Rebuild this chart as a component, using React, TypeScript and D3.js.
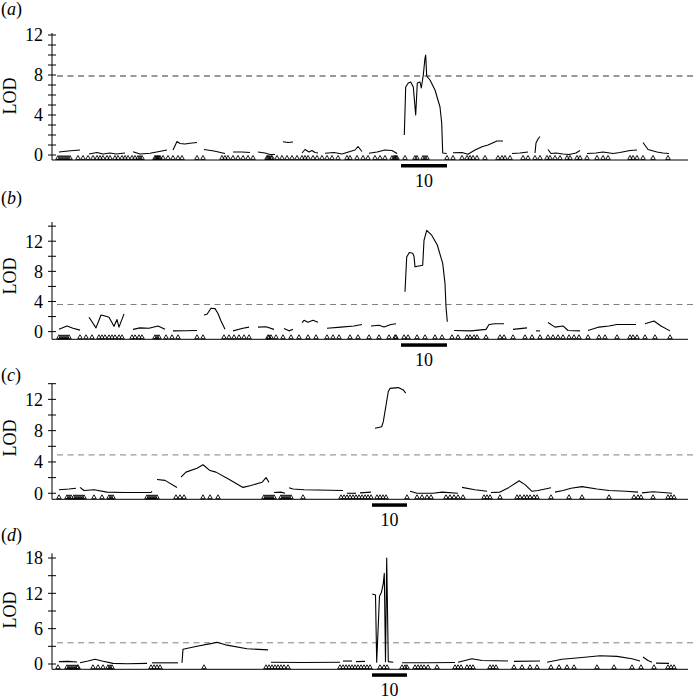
import React from 'react';
import * as d3 from 'd3';

type Pt = [number, number];

// map position (arbitrary cM-like units) -> LOD, one array per curve segment
const lodA: Pt[][] = [
  [[7, 0.3], [16, 0.4], [28, 0.5]],
  [[37, 0.1], [45, 0.25], [51, 0.1], [58, 0.2], [64, 0.1], [73, 0.2]],
  [[81, 0.33], [88, 0.1], [98, 0.17], [106, 0.33], [115, 0.5]],
  [[121, 0.5], [125, 1.35], [128, 1.15], [133, 1.1], [138, 1.17], [145, 1.25]],
  [[152, 0.55], [162, 0.4], [173, 0.15]],
  [[181, 0.3], [190, 0.3], [198, 0.25]],
  [[206, 0.3], [213, 0.2], [218, 0.05], [223, 0.05]],
  [[231, 1.33], [236, 1.25], [241, 1.3]],
  [[250, 0.2], [253, 0.55], [257, 0.3], [260, 0.45], [263, 0.25], [266, 0.2]],
  [[273, 0.17], [282, 0.25], [290, 0.1], [298, 0.35], [303, 0.5], [306, 0.85], [310, 0.35]],
  [[317, 0.17], [325, 0.3], [333, 0.5], [340, 0.45], [345, 0.15]],
  [[352.3, 2.0], [353.7, 6.8], [356.3, 7.2], [358.7, 7.3], [361.3, 6.8], [363.7, 4.0], [365.3, 7.2], [368, 7.3],
    [369.3, 6.7], [371.3, 8.0], [373, 9.7], [373.7, 10.0], [374.7, 7.9], [378, 7.5], [383, 6.5], [388, 4.8],
    [389.7, 3.2], [390.7, 0.2], [394.7, 0.15]],
  [[401, 0.23], [410, 0.25], [416, 0.07], [423, 0.5], [430, 0.83], [436, 1.0], [445, 1.4], [451, 1.4]],
  [[460, 0.15], [468, 0.2], [476, 0.3]],
  [[483, 0.2], [484, 1.2], [486, 1.6], [488, 1.85]],
  [[496, 0.55], [499, 0.15], [504, 0.2], [511, 0.1], [517, 0.05], [524, 0.2], [528, 0.45]],
  [[535, 0.15], [544, 0.2], [551, 0.3], [561, 0.15], [568, 0.25], [578, 0.45], [585, 0.5]],
  [[591, 1.25], [596, 0.55], [605, 0.3], [611, 0.2], [617, 0.15]],
];
const markersA = [6, 8, 10, 12, 14, 16, 18, 26, 31, 36, 41, 45, 48, 51, 55, 58, 63, 66, 70, 73, 76, 80, 83, 86, 88, 90,
  103, 104, 105, 106, 107, 108, 111, 116, 121, 126, 130, 145, 151, 170, 173, 176, 181, 186, 191, 196, 201, 215, 216,
  217, 219, 220, 225, 230, 235, 240, 245, 250, 253, 256, 261, 265, 270, 275, 280, 286, 295, 298, 305, 311, 316, 323,
  328, 333, 340, 342, 343, 344, 345, 353, 363, 365, 371, 373, 375, 395, 401, 410, 415, 418, 421, 425, 433, 446, 450,
  453, 458, 471, 476, 483, 488, 495, 498, 503, 508, 515, 518, 525, 528, 535, 545, 551, 556, 578, 581, 585, 591, 601, 616];

const lodB: Pt[][] = [
  [[7, 0.3], [15, 0.75], [21, 0.45], [28, 0.2]],
  [[37, 1.9], [44, 0.5], [49, 2.2], [54, 2.05], [57, 1.9], [62, 0.7], [65, 1.6], [67, 0.6], [72, 2.35]],
  [[81, 0.3], [88, 0.5], [97, 0.45], [106, 0.75], [113, 0.3]],
  [[121, 0.1], [133, 0.12], [145, 0.15]],
  [[152, 2.2], [155, 2.3], [159, 3.1], [163, 3.05], [166, 2.4], [169, 1.4], [173, 0.3]],
  [[181, 0.1], [191, 0.45], [197, 0.6]],
  [[206, 0.6], [214, 0.65], [222, 0.3]],
  [[232, 0.4], [237, 0.1], [241, 0.3]],
  [[250, 1.2], [252, 1.5], [256, 1.25], [261, 1.5], [266, 1.25]],
  [[275, 0.45], [289, 0.6], [302, 0.75], [310, 0.95]],
  [[319, 0.75], [327, 0.85], [332, 0.6], [339, 0.95], [344, 1.05]],
  [[353, 5.3], [354.7, 9.9], [357.3, 10.5], [360.7, 10.4], [362, 10.0], [363, 8.6], [370.7, 8.8], [372, 12.1],
    [374.7, 13.45], [379.7, 12.8], [385.3, 11.5], [390.7, 9.05], [393, 6.4], [394, 3.3], [395.3, 1.3]],
  [[402, 0.15], [419, 0.1], [434, 0.3], [437, 0.95], [443, 1.05], [452, 1.05]],
  [[461, 0.3], [468, 0.4], [475, 0.5]],
  [[484, 0.1], [488, 0.1]],
  [[496, 1.2], [503, 0.6], [511, 0.75], [516, 0.15], [528, 0.1]],
  [[536, 0.15], [547, 0.6], [557, 0.75], [565, 0.95], [584, 0.95]],
  [[593, 1.05], [602, 1.4], [609, 0.75], [618, 0.1]],
];
const markersB = [7, 9, 11, 13, 15, 17, 28, 34, 40, 47, 50, 53, 57, 60, 63, 67, 70, 80, 83, 87, 90, 103, 105, 107,
  114, 120, 126, 145, 151, 172, 177, 182, 187, 192, 197, 216, 217, 219, 224, 231, 239, 247, 256, 264, 275, 281, 287,
  298, 306, 317, 327, 337, 343, 344, 352, 356, 365, 373, 383, 390, 400, 406, 415, 418, 422, 425, 434, 448, 452, 461,
  473, 480, 488, 496, 501, 506, 511, 517, 522, 527, 536, 547, 553, 565, 578, 581, 585, 593, 603, 618];

const lodC: Pt[][] = [
  [[7, 0.45], [17, 0.55], [24, 0.65]],
  [[28, 0.75], [32, 0.35], [42, 0.45], [55, 0.15], [72, 0.1], [99, 0.1], [100, 0.25]],
  [[105, 1.75], [113, 1.65], [125, 0.75]],
  [[129, 2.05], [134, 2.7], [145, 3.2], [151, 3.65], [158, 2.9], [164, 2.7], [176, 1.85], [191, 0.75], [199, 1.0],
    [210, 1.4], [214, 2.0], [217, 1.4]],
  [[222, 0.1], [229, 0.15], [233, 0.0]],
  [[237, 0.7], [241, 0.55], [252, 0.45], [291, 0.35]],
  [[295, 0.0], [304, 0.0]],
  [[308, 0.05], [319, 0.15]],
  [[323, 8.3], [329.7, 8.5], [331.3, 9.15], [336.3, 13.0], [338, 13.4], [346.3, 13.5], [351.3, 13.2], [353.7, 12.8]],
  [[358, 0.25], [365, 0.0], [381, 0.0], [390, 0.15], [406, 0.0]],
  [[410, 0.75], [423, 0.45], [435, 0.25]],
  [[439, 0.1], [448, 0.15], [457, 0.75], [465, 1.4], [467, 1.6], [473, 1.1], [480, 0.25], [486, 0.35], [499, 0.7]],
  [[503, 0.15], [511, 0.35], [519, 0.65], [530, 0.85], [545, 0.55], [557, 0.35], [574, 0.25], [586, 0.15]],
  [[590, 0.05], [601, 0.2], [611, 0.1], [620, 0.0]],
];
const markersC = [7, 15, 17, 19, 22, 24, 26, 28, 30, 32, 42, 50, 57, 59, 61, 95, 97, 99, 101, 103, 105, 124, 128,
  132, 151, 158, 166, 212, 214, 216, 218, 220, 222, 229, 231, 233, 235, 237, 239, 251, 289, 292, 295, 298, 301, 304,
  307, 310, 313, 316, 319, 325, 328, 331, 334, 355, 365, 370, 375, 379, 394, 398, 402, 406, 411, 432, 435, 438, 448,
  465, 468, 472, 475, 478, 482, 485, 499, 517, 530, 557, 582, 586, 589, 601, 616, 619, 622];

const lodD: Pt[][] = [
  [[7, 0.4], [16, 0.45], [25, 0.35]],
  [[28, 0.2], [36, 0.5], [43, 0.8], [50, 0.5], [61, 0.1], [75, 0.05], [95, 0.1]],
  [[100, 0.2], [126, 0.2]],
  [[130, 0.2], [131, 2.5], [145, 3.0], [160, 3.5], [165, 3.7], [175, 3.2], [195, 2.6], [216, 2.4]],
  [[219, 0.3], [250, 0.25], [288, 0.3]],
  [[291, 0.5], [300, 0.5]],
  [[304, 0.4], [313, 0.45]],
  [[320.3, 11.9], [323.5, 11.7], [324.7, 0.3], [327.5, 11.5], [329.5, 12.2], [331.3, 13.7], [332.3, 15.4],
    [333.5, 0.4], [334.7, 18.0], [336.3, 0.4], [341.3, 0.3]],
  [[350, 0.2], [375, 0.2], [403, 0.25]],
  [[406, 0.3], [420, 0.9], [430, 0.6], [456, 0.5]],
  [[462, 0.45], [488, 0.5]],
  [[495, 0.3], [510, 0.8], [530, 1.1], [548, 1.4], [565, 1.3], [580, 0.9], [588, 0.5]],
  [[591, 1.2], [596, 0.6], [600, 0.3]],
  [[604, 0.15], [617, 0.1]],
];
const markersD = [6, 15, 17, 19, 21, 23, 25, 26, 41, 46, 51, 56, 58, 60, 99, 102, 105, 108, 152, 214, 217, 220, 223,
  226, 229, 232, 236, 288, 291, 294, 297, 300, 303, 306, 309, 312, 315, 318, 328, 332, 335, 350, 353, 355, 363, 366,
  369, 372, 376, 385, 403, 406, 409, 415, 418, 421, 438, 441, 444, 462, 470, 478, 485, 499, 507, 515, 522, 545, 562,
  580, 589, 602, 616, 619, 622];

const thresholds = [7.9, 3.6, 4.9, 3.6];
const panelLetters = ['a', 'b', 'c', 'd'];
const majorTicks = [[0, 4, 8, 12], [0, 4, 8, 12], [0, 4, 8, 12], [0, 6, 12, 18]];
const minorTicks = [[1, 2, 3, 5, 6, 7, 9, 10, 11], [2, 6, 10, 14], [2, 6, 10, 14], [3, 9, 15]];
const chr10Spans: [number, number][] = [[349, 395], [349, 395], [320, 355], [320, 355]];
const chrLabel = '10';

const curves = [lodA, lodB, lodC, lodD];
const markers = [markersA, markersB, markersC, markersD];

// pixel layout of each panel: baseline, axis top, LOD extent
const layout = [
  { base: 160, top: 33, lo: -0.5, hi: 12.2, letterY: 15, lodY: 96 },
  { base: 339.3, top: 222, lo: -1.02, hi: 14.55, letterY: 204, lodY: 276 },
  { base: 499.3, top: 383.3, lo: -0.77, hi: 14.05, letterY: 381, lodY: 438 },
  { base: 669.3, top: 553.3, lo: -0.9, hi: 18.8, letterY: 541, lodY: 610 },
];

const FONT = "'Liberation Serif', 'Times New Roman', Times, serif";
const AX_L = 52;
const AX_R = 688;

const x = d3.scaleLinear().domain([0, 636]).range([AX_L, AX_R]);
const tri = d3.symbol(d3.symbolTriangle, 9)() as string;

function Panel({ i }: { i: number }) {
  const L = layout[i];
  const y = d3.scaleLinear().domain([L.lo, L.hi]).range([L.base, L.top]);
  const line = d3.line<Pt>().x((d) => x(d[0])).y((d) => y(d[1]));
  const span = chr10Spans[i];
  return (
    <g>
      <text x={1} y={L.letterY} fontFamily={FONT} fontSize={18}>
        (<tspan fontStyle="italic">{panelLetters[i]}</tspan>)
      </text>
      <text
        transform={`translate(15.5,${L.lodY}) rotate(-90)`}
        textAnchor="middle"
        fontFamily={FONT}
        fontSize={18}
      >
        LOD
      </text>
      {/* axes */}
      <line x1={AX_L} x2={AX_L} y1={L.base} y2={L.top} stroke="#000" strokeWidth={1} />
      <line x1={AX_L} x2={AX_R} y1={L.base} y2={L.base} stroke="#000" strokeWidth={1} />
      {majorTicks[i].concat(minorTicks[i]).map((t) => (
        <line key={t} x1={AX_L - 4} x2={AX_L + 4} y1={y(t)} y2={y(t)} stroke="#000" strokeWidth={1} />
      ))}
      {majorTicks[i].map((t) => (
        <text key={t} x={43} y={y(t)} dy="0.35em" textAnchor="end" fontFamily={FONT} fontSize={18}>
          {t}
        </text>
      ))}
      {/* threshold */}
      <line
        x1={AX_L + 5}
        x2={697}
        y1={y(thresholds[i])}
        y2={y(thresholds[i])}
        stroke={i === 0 ? '#333' : '#808080'}
        strokeWidth={1}
        strokeDasharray="6,4.5"
      />
      {/* markers */}
      {markers[i].map((m, k) => (
        <path
          key={k}
          d={tri}
          transform={`translate(${x(m)},${L.base - 1.9})`}
          fill="none"
          stroke="#000"
          strokeWidth={0.9}
        />
      ))}
      {/* LOD curves */}
      {curves[i].map((seg, k) => (
        <path key={k} d={line(seg) ?? ''} fill="none" stroke="#000" strokeWidth={1.1} strokeLinejoin="round" />
      ))}
      {/* chromosome 10 */}
      <rect x={x(span[0])} y={L.base + 4} width={x(span[1]) - x(span[0])} height={3.5} fill="#000" />
      <text
        x={(x(span[0]) + x(span[1])) / 2}
        y={L.base + 27}
        textAnchor="middle"
        fontFamily={FONT}
        fontSize={18}
      >
        {chrLabel}
      </text>
    </g>
  );
}

export default function App() {
  return (
    <svg
      width={697}
      height={700}
      style={{ position: 'absolute', left: 0, top: 0, background: '#fff' }}
    >
      <rect width={697} height={700} fill="#fff" />
      {layout.map((_, i) => (
        <Panel key={i} i={i} />
      ))}
    </svg>
  );
}
